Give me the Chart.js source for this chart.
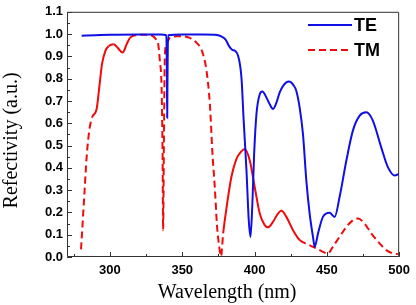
<!DOCTYPE html>
<html>
<head>
<meta charset="utf-8">
<script src="https://cdn.jsdelivr.net/npm/chart.js@4/dist/chart.umd.min.js"></script>
<style>
  html, body { margin: 0; padding: 0; background: #fff; }
  #wrap { width: 416px; height: 305px; }
</style>
</head>
<body>
<div id="wrap"><canvas id="chart"></canvas></div>
<script>
// TE / TM reflectivity spectra
const teWavelength = [280.4, 290, 300, 320, 335, 339.0, 339.4, 339.6, 339.8, 340.2, 350, 365, 374, 377, 380, 382.5, 384.5, 386.5, 388.5, 390, 391, 392.5, 394.4, 396, 397.2, 398.5, 399.7, 401.3, 403.6, 405.4, 408.2, 410.5, 412.8, 415, 417.4, 420, 423.8, 427, 428.9, 431.2, 433.5, 435.8, 438.1, 440.4, 441.6, 443.9, 447.3, 451.9, 455.4, 458.8, 463.5, 468, 472.7, 477.3, 481.8, 487.6, 492.2, 496.8, 500];
const teValue = [0.993, 0.995, 0.997, 0.998, 0.998, 0.995, 0.80, 0.625, 0.80, 0.995, 0.998, 0.998, 0.996, 0.99, 0.975, 0.945, 0.93, 0.925, 0.905, 0.86, 0.80, 0.61, 0.39, 0.165, 0.09, 0.24, 0.46, 0.64, 0.73, 0.742, 0.716, 0.685, 0.664, 0.69, 0.738, 0.77, 0.787, 0.77, 0.745, 0.67, 0.55, 0.344, 0.195, 0.091, 0.046, 0.106, 0.18, 0.198, 0.18, 0.269, 0.433, 0.567, 0.634, 0.649, 0.612, 0.492, 0.403, 0.366, 0.373];

const tmWavelength = [280.0, 282.3, 283.9, 285.7, 287.6, 290.8, 292.6, 294.5, 296.8, 299.1, 302.6, 305.3, 308.8, 311.5, 313.8, 318, 325, 330, 332, 333.4, 334.5, 335.7, 336.4, 336.8, 337.3, 338, 339.1, 341.4, 346, 351, 355.2, 359.9, 362.5, 364.4, 366.8, 369.1, 370.9, 372.5, 374.1, 375.5, 376.8, 378.3, 380.6, 384, 387.5, 391, 393.2, 396.7, 400.1, 403.6, 407, 409.3, 412.8, 416.2, 418.6, 422, 426.6, 431.2, 436.3, 440.4, 445, 450.8, 454.2, 458.8, 463.5, 468, 471.5, 476.1, 480.7, 486.5, 491.1, 495.7, 499.1];
const tmValue = [0.034, 0.28, 0.45, 0.567, 0.626, 0.664, 0.76, 0.865, 0.924, 0.946, 0.954, 0.939, 0.917, 0.954, 0.983, 0.995, 0.997, 0.99, 0.975, 0.954, 0.88, 0.76, 0.46, 0.12, 0.5, 0.91, 0.954, 0.983, 0.99, 0.99, 0.983, 0.961, 0.94, 0.909, 0.835, 0.686, 0.463, 0.314, 0.135, 0.05, 0.003, 0.106, 0.22, 0.36, 0.44, 0.475, 0.485, 0.433, 0.314, 0.195, 0.143, 0.133, 0.158, 0.195, 0.207, 0.18, 0.12, 0.076, 0.058, 0.046, 0.031, 0.016, 0.046, 0.091, 0.135, 0.165, 0.173, 0.15, 0.106, 0.061, 0.031, 0.016, 0.013];

const xTicks = [300, 350, 400, 450, 500];
const xMinorTicks = [275, 325, 375, 425, 475];
const yTicks = [0.0, 0.1, 0.2, 0.3, 0.4, 0.5, 0.6, 0.7, 0.8, 0.9, 1.0, 1.1];
const yMinorTicks = [0.05, 0.15, 0.25, 0.35, 0.45, 0.55, 0.65, 0.75, 0.85, 0.95, 1.05];

const xTitle = 'Wavelength (nm)';
const yTitle = 'Refectivity (a.u.)';

// wavelength ranges where the TM curve is drawn solid
const tmSolidRanges = [[286, 299.5], [302, 317], [377, 432]];

const blue = 'rgb(15,15,230)';
const red = 'rgb(240,10,10)';
const tickFont = { family: 'Liberation Sans', size: 13, weight: 'bold' };

function pairs(xs, ys) {
    return xs.map((v, i) => ({ x: v, y: ys[i] }));
}

function tmDash(ctx) {
    const x0 = ctx.p0.parsed.x, x1 = ctx.p1.parsed.x;
    const solid = tmSolidRanges.some(r => x0 >= r[0] && x1 <= r[1]);
    return solid ? [] : [7, 4];
}

// inner tick marks + box frame
const frameTicks = {
    id: 'frameTicks',
    afterDraw(chart) {
        const { ctx, chartArea: a, scales: { x, y } } = chart;
        ctx.save();
        ctx.strokeStyle = '#333';
        ctx.lineWidth = 1;
        ctx.beginPath();
        ctx.rect(a.left + 0.5, a.top + 0.5, a.right - a.left - 1, a.bottom - a.top - 1);
        const tick = (list, len, isX) => {
            list.forEach(v => {
                if (isX) {
                    const px = Math.round(x.getPixelForValue(v)) + 0.5;
                    ctx.moveTo(px, a.bottom);
                    ctx.lineTo(px, a.bottom - len);
                } else {
                    const py = Math.round(y.getPixelForValue(v)) + 0.5;
                    ctx.moveTo(a.left, py);
                    ctx.lineTo(a.left + len, py);
                }
            });
        };
        tick(xTicks, 5, true);
        tick(xMinorTicks, 3, true);
        tick(yTicks, 5, false);
        tick(yMinorTicks, 3, false);
        ctx.stroke();

        // axis titles
        ctx.fillStyle = '#000';
        ctx.font = '20px "Liberation Serif"';
        ctx.textAlign = 'center';
        ctx.textBaseline = 'alphabetic';
        ctx.fillText(xTitle, (a.left + a.right) / 2 - 6, 298);
        ctx.translate(17, (a.top + a.bottom) / 2 + 6);
        ctx.rotate(-Math.PI / 2);
        ctx.fillText(yTitle, 0, 0);
        ctx.restore();
    }
};

// legend in the upper right corner of the plot
const cornerLegend = {
    id: 'cornerLegend',
    afterDraw(chart) {
        const { ctx } = chart;
        ctx.save();
        ctx.font = 'bold 18px "Liberation Sans"';
        ctx.textBaseline = 'middle';
        ctx.fillStyle = '#000';
        chart.data.datasets.forEach((ds, i) => {
            const yy = 25 + i * 25;
            ctx.strokeStyle = ds.borderColor;
            ctx.lineWidth = 2;
            ctx.setLineDash(i === 1 ? [7, 4] : []);
            ctx.beginPath();
            ctx.moveTo(308, yy);
            ctx.lineTo(352, yy);
            ctx.stroke();
            ctx.fillText(ds.label, 354, yy + 1);
        });
        ctx.restore();
    }
};

new Chart(document.getElementById('chart'), {
    type: 'line',
    data: {
        datasets: [{
            label: 'TE',
            data: pairs(teWavelength, teValue),
            borderColor: blue,
            borderWidth: 2,
            pointRadius: 0,
            cubicInterpolationMode: 'monotone'
        }, {
            label: 'TM',
            data: pairs(tmWavelength, tmValue),
            borderColor: red,
            borderWidth: 2,
            pointRadius: 0,
            cubicInterpolationMode: 'monotone',
            borderDash: [7, 4],
            segment: { borderDash: tmDash }
        }]
    },
    options: {
        responsive: true,
        maintainAspectRatio: false,
        animation: false,
        layout: { padding: { top: 10, right: 16, left: 0, bottom: 0 } },
        plugins: {
            legend: { display: false },
            tooltip: { enabled: false }
        },
        scales: {
            x: {
                type: 'linear',
                min: 270.3,
                max: 500,
                grid: { display: false, drawTicks: false },
                border: { display: false },
                afterBuildTicks: s => { s.ticks = xTicks.map(v => ({ value: v })); },
                afterFit: s => { s.height = 48; },
                ticks: { font: tickFont, color: '#000', padding: 6, maxRotation: 0 }
            },
            y: {
                type: 'linear',
                min: 0,
                max: 1.1,
                grid: { display: false, drawTicks: false },
                border: { display: false },
                afterBuildTicks: s => { s.ticks = yTicks.map(v => ({ value: v })); },
                afterFit: s => { s.width = 67; },
                ticks: { font: tickFont, color: '#000', padding: 4, callback: v => v.toFixed(1) }
            }
        }
    },
    plugins: [frameTicks, cornerLegend]
});
</script>
</body>
</html>
